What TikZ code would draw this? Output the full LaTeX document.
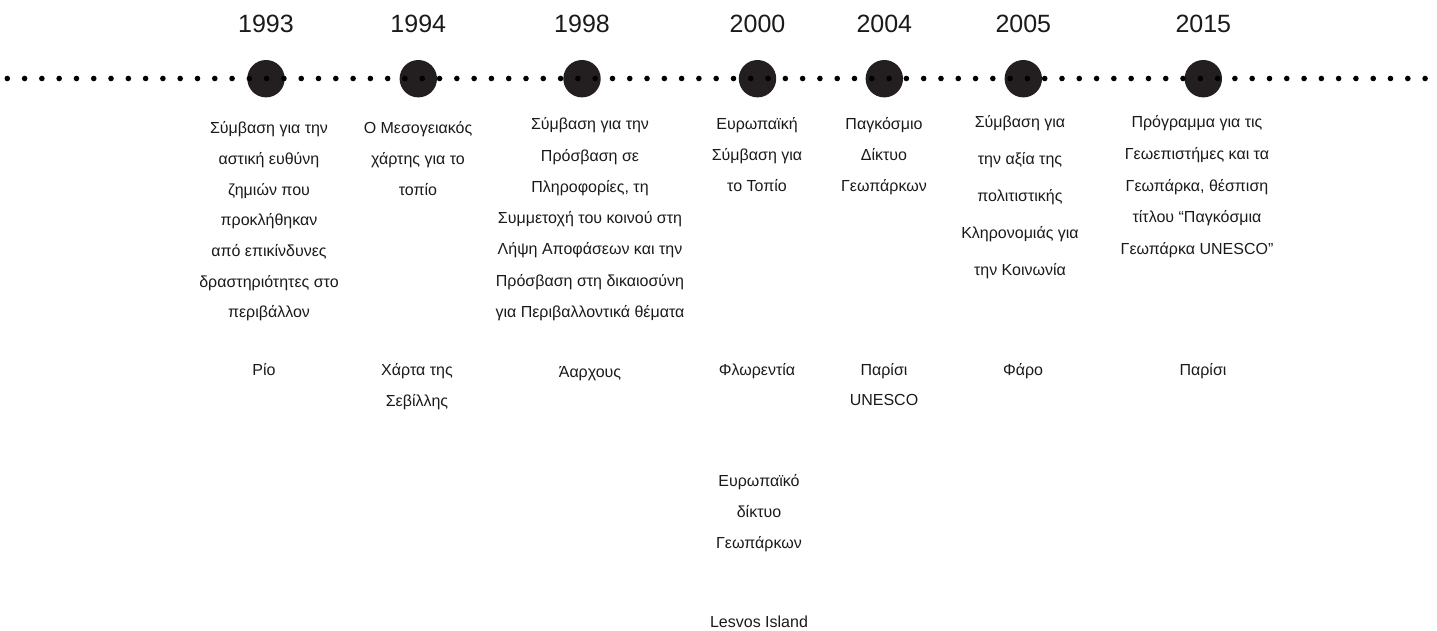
\documentclass[tikz,border=0pt]{standalone}
\usepackage{fontspec}
\setmainfont{Liberation Sans}
\definecolor{dotc}{HTML}{231F20}
\definecolor{txt}{HTML}{1A1A1A}
\begin{document}
\begin{tikzpicture}[x=1pt,y=-1pt,
  yearlabel/.style={anchor=base,inner sep=0pt,text=txt,font=\fontsize{25}{30}\selectfont},
  desc/.style={anchor=base,inner sep=0pt,align=center,text=txt},
  bigdot/.style={circle,fill=dotc,minimum size=37.4pt,inner sep=0pt},
  dotline/.style={line width=5.6pt,line cap=round,dash pattern=on 0pt off 17.29pt,draw=black}]
\useasboundingbox (0,0) rectangle (1437,631);

% big circles
\node[bigdot] (c1993) at (266,78.7) {};
\node[bigdot] (c1994) at (418.3,78.7) {};
\node[bigdot] (c1998) at (582,78.7) {};
\node[bigdot] (c2000) at (757.5,78.7) {};
\node[bigdot] (c2004) at (884.3,78.7) {};
\node[bigdot] (c2005) at (1023.3,78.7) {};
\node[bigdot] (c2015) at (1203.3,78.7) {};

% dotted timeline
\coordinate (L) at (7.3,78.5);
\coordinate (R) at (1426,78.5);
\draw[dotline] (L) -- (R);

% years
\node[yearlabel] (y1993) at (266,32.8) {1993};
\node[yearlabel] (y1994) at (418.3,32.8) {1994};
\node[yearlabel] (y1998) at (582,32.8) {1998};
\node[yearlabel] (y2000) at (757.5,32.8) {2000};
\node[yearlabel] (y2004) at (884.3,32.8) {2004};
\node[yearlabel] (y2005) at (1023.3,32.8) {2005};
\node[yearlabel] (y2015) at (1203.3,32.8) {2015};

% events (anchor = baseline of last line)
\node[desc,font=\fontsize{16}{30.7}\selectfont] (e1993) at (269,317.9)
  {Σύμβαση για την\\αστική ευθύνη\\ζημιών που\\προκλήθηκαν\\από επικίνδυνες\\δραστηριότητες στο\\περιβάλλον};
\node[desc,font=\fontsize{16}{30.7}\selectfont] (e1994) at (418,195.1)
  {Ο Μεσογειακός\\χάρτης για το\\τοπίο};
\node[desc,font=\fontsize{16}{31.3}\selectfont] (e1998) at (590,317.5)
  {Σύμβαση για την\\Πρόσβαση σε\\Πληροφορίες, τη\\Συμμετοχή του κοινού στη\\Λήψη Αποφάσεων και την\\Πρόσβαση στη δικαιοσύνη\\για Περιβαλλοντικά θέματα};
\node[desc,font=\fontsize{16}{31}\selectfont] (e2000) at (757,191.7)
  {Ευρωπαϊκή\\Σύμβαση για\\το Τοπίο};
\node[desc,font=\fontsize{16}{31}\selectfont] (e2004) at (884,191.7)
  {Παγκόσμιο\\Δίκτυο\\Γεωπάρκων};
\node[desc,font=\fontsize{16}{37}\selectfont] (e2005) at (1020,275.7)
  {Σύμβαση για\\την αξία της\\πολιτιστικής\\Κληρονομιάς για\\την Κοινωνία};
\node[desc,font=\fontsize{16}{31.7}\selectfont] (e2015) at (1197,254.5)
  {Πρόγραμμα για τις\\Γεωεπιστήμες και τα\\Γεωπάρκα, θέσπιση\\τίτλου “Παγκόσμια\\Γεωπάρκα UNESCO”};

% places
\node[desc,font=\fontsize{16}{31}\selectfont] (p1993) at (264,375.7) {Ρίο};
\node[desc,font=\fontsize{16}{31}\selectfont] (p1994) at (417,406.7) {Χάρτα της\\Σεβίλλης};
\node[desc,font=\fontsize{16}{31}\selectfont] (p1998) at (590,377) {Άαρχους};
\node[desc,font=\fontsize{16}{31}\selectfont] (p2000) at (757,375.7) {Φλωρεντία};
\node[desc,font=\fontsize{16}{30}\selectfont] (p2004) at (884,405.7) {Παρίσι\\UNESCO};
\node[desc,font=\fontsize{16}{31}\selectfont] (p2005) at (1023,375.7) {Φάρο};
\node[desc,font=\fontsize{16}{31}\selectfont] (p2015) at (1203,375.7) {Παρίσι};

% 2000 additional
\node[desc,font=\fontsize{16}{31}\selectfont] (n2000) at (759,548.7) {Ευρωπαϊκό\\δίκτυο\\Γεωπάρκων};
\node[desc,font=\fontsize{16}{31}\selectfont] (l2000) at (759,627.4) {Lesvos Island};
\end{tikzpicture}
\end{document}
